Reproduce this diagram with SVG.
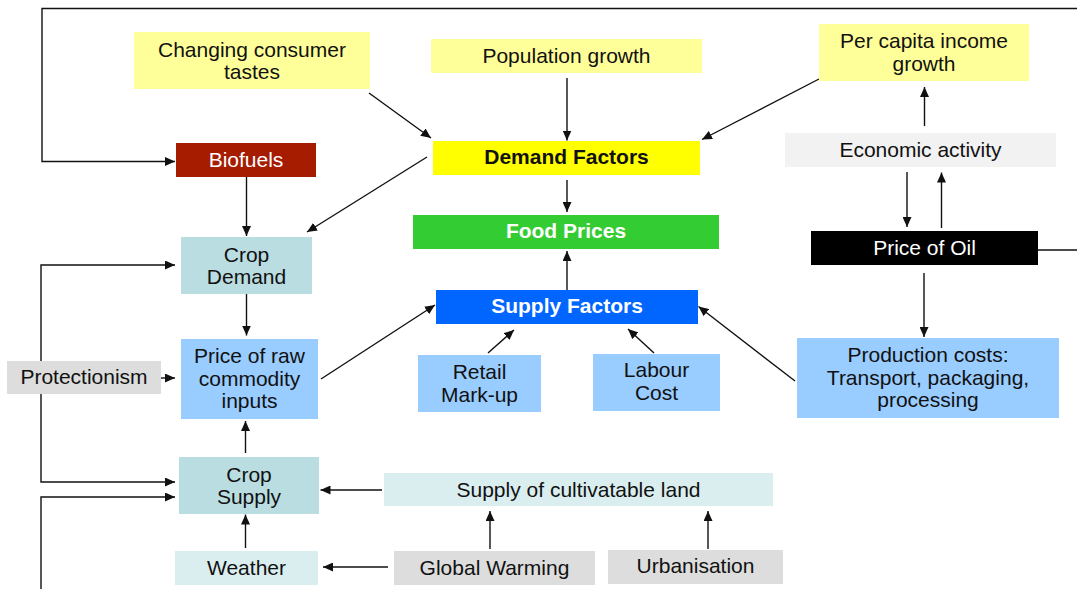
<svg xmlns="http://www.w3.org/2000/svg" width="1077" height="589" viewBox="0 0 1077 589">
<style>
text{font-family:"Liberation Sans",Arial,sans-serif;font-size:21px;fill:#111;text-anchor:middle}
.b{font-weight:bold}
.w{fill:#fff}
.c line,.c path{stroke:#111;stroke-width:1.4;fill:none}
.a{marker-end:url(#ah)}
</style>
<defs>
<marker id="ah" markerUnits="userSpaceOnUse" markerWidth="10" markerHeight="9" refX="10" refY="4.5" orient="auto">
<path d="M0,0 L10,4.5 L0,9 z" fill="#111"/>
</marker>
</defs>
<rect width="1077" height="589" fill="#fff"/>
<g class="c" id="connectors">
<path d="M1077,8.5 H42 V161.5 H175" class="a"/>
<path d="M1038,250 H1077"/>
<path d="M41,373 V265 H175" class="a"/>
<path d="M41,373 V482 H175" class="a"/>
<path d="M41,589 V497 H175" class="a"/>
<line x1="161" y1="378" x2="175" y2="378" class="a"/>
<line x1="246.5" y1="177" x2="246.5" y2="236" class="a"/>
<line x1="427" y1="157" x2="307" y2="232" class="a"/>
<line x1="369" y1="93" x2="431" y2="138" class="a"/>
<line x1="567" y1="78" x2="567" y2="140.5" class="a"/>
<line x1="819" y1="79" x2="702" y2="139.5" class="a"/>
<line x1="567" y1="180" x2="567" y2="212" class="a"/>
<line x1="567" y1="290" x2="567" y2="251" class="a"/>
<line x1="321" y1="379" x2="435" y2="305" class="a"/>
<line x1="488" y1="353" x2="514" y2="330" class="a"/>
<line x1="654" y1="353" x2="628" y2="329" class="a"/>
<line x1="795" y1="381" x2="698.5" y2="306.5" class="a"/>
<line x1="924.5" y1="126" x2="924.5" y2="87" class="a"/>
<line x1="907" y1="172" x2="907" y2="227" class="a"/>
<line x1="941.5" y1="228" x2="941.5" y2="172.5" class="a"/>
<line x1="924" y1="273" x2="924" y2="337" class="a"/>
<line x1="246.5" y1="294" x2="246.5" y2="335.5" class="a"/>
<line x1="245.5" y1="453" x2="245.5" y2="421" class="a"/>
<line x1="245.5" y1="548" x2="245.5" y2="514.5" class="a"/>
<line x1="382" y1="490" x2="320.5" y2="490" class="a"/>
<line x1="388" y1="567" x2="323" y2="567" class="a"/>
<line x1="490" y1="549" x2="490" y2="511" class="a"/>
<line x1="708" y1="549" x2="708" y2="511" class="a"/>
</g>
<g id="changing-tastes"><rect x="134" y="32" width="236" height="57" fill="#ffff99"/><text x="252" y="57">Changing consumer</text><text x="252" y="79">tastes</text></g>
<g id="population-growth"><rect x="431" y="39" width="271" height="34" fill="#ffff99"/><text x="566.5" y="63">Population growth</text></g>
<g id="per-capita-income"><rect x="819" y="24" width="210" height="57" fill="#ffff99"/><text x="924" y="48">Per capita income</text><text x="924" y="71">growth</text></g>
<g id="demand-factors"><rect x="433" y="141" width="267" height="34" fill="#ffff00"/><text class="b" x="566.5" y="164">Demand Factors</text></g>
<g id="food-prices"><rect x="413" y="215" width="306" height="34" fill="#33cc33"/><text class="b w" x="566" y="238">Food Prices</text></g>
<g id="biofuels"><rect x="176" y="143" width="140" height="34" fill="#a61c00"/><text class="w" x="246" y="167">Biofuels</text></g>
<g id="crop-demand"><rect x="181" y="237" width="131" height="57" fill="#b9dde1"/><text x="246.5" y="262">Crop</text><text x="246.5" y="284">Demand</text></g>
<g id="economic-activity"><rect x="785" y="133" width="271" height="34" fill="#f2f2f2"/><text x="920.5" y="157">Economic activity</text></g>
<g id="price-of-oil"><rect x="811" y="231" width="227" height="34" fill="#000"/><text class="w" x="924.5" y="255">Price of Oil</text></g>
<g id="supply-factors"><rect x="436" y="290" width="262" height="34" fill="#0066ff"/><text class="b w" x="567" y="313">Supply Factors</text></g>
<g id="retail-markup"><rect x="418" y="355" width="123" height="57" fill="#99ccff"/><text x="479.5" y="379">Retail</text><text x="479.5" y="402">Mark-up</text></g>
<g id="labour-cost"><rect x="593" y="354" width="127" height="57" fill="#99ccff"/><text x="656.5" y="377">Labour</text><text x="656.5" y="400">Cost</text></g>
<g id="production-costs"><rect x="797" y="338" width="262" height="80" fill="#99ccff"/><text x="928" y="362">Production costs:</text><text x="928" y="385">Transport, packaging,</text><text x="928" y="407">processing</text></g>
<g id="supply-of-land"><rect x="384" y="473" width="389" height="33" fill="#daeef0"/><text x="578.5" y="497">Supply of cultivatable land</text></g>
<g id="global-warming"><rect x="394" y="551" width="201" height="34" fill="#dddddd"/><text x="494.5" y="575">Global Warming</text></g>
<g id="urbanisation"><rect x="608" y="550" width="175" height="34" fill="#dddddd"/><text x="695.5" y="573">Urbanisation</text></g>
<g id="protectionism"><rect x="7" y="361" width="154" height="33" fill="#dddddd"/><text x="84" y="384">Protectionism</text></g>
<g id="price-raw-inputs"><rect x="181" y="339" width="137" height="80" fill="#99ccff"/><text x="249.5" y="363">Price of raw</text><text x="249.5" y="386">commodity</text><text x="249.5" y="408">inputs</text></g>
<g id="crop-supply"><rect x="179" y="457" width="140" height="57" fill="#b9dde1"/><text x="249" y="482">Crop</text><text x="249" y="504">Supply</text></g>
<g id="weather"><rect x="175" y="551" width="143" height="34" fill="#daeef0"/><text x="246.5" y="575">Weather</text></g>
</svg>
